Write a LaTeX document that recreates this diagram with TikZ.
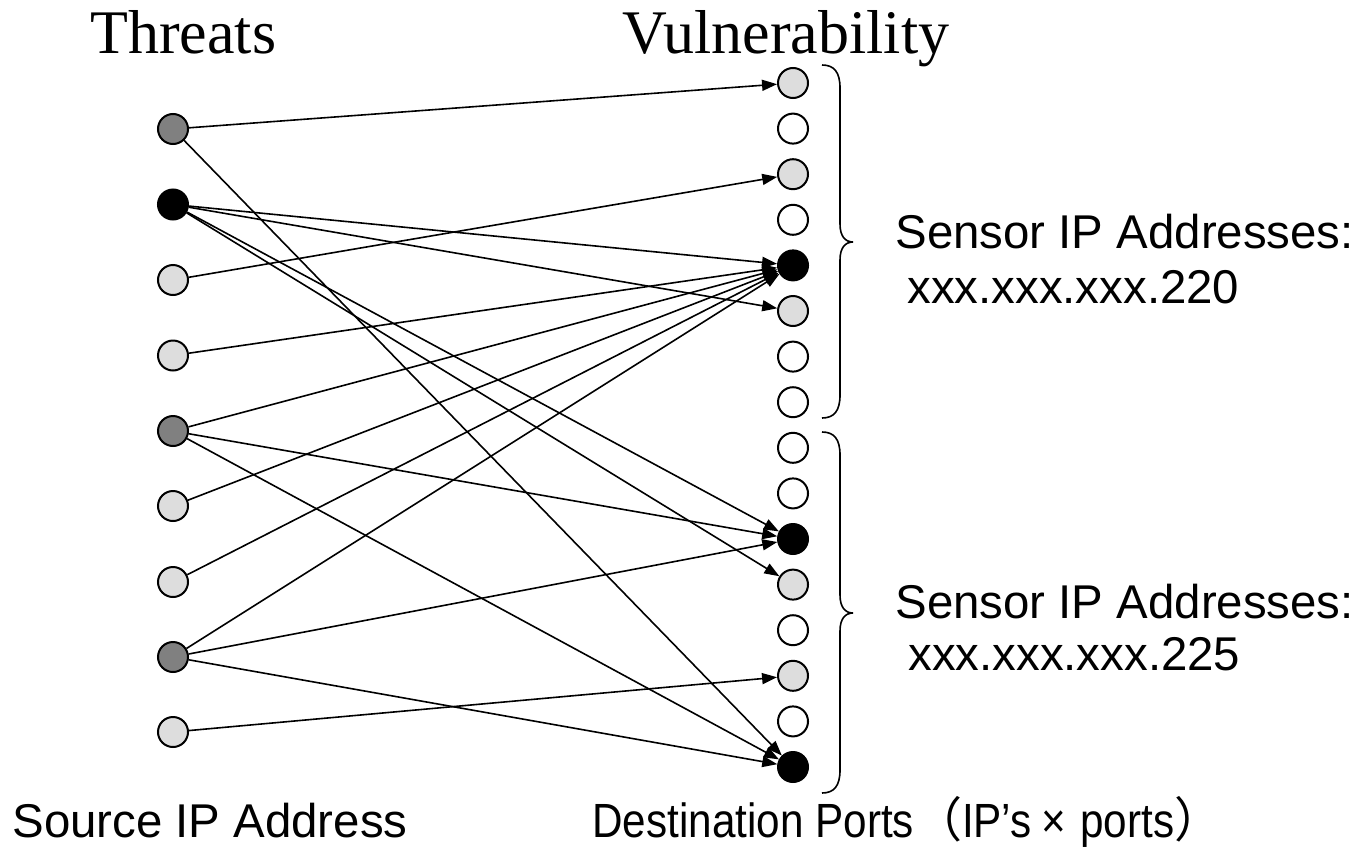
\documentclass[tikz,border=0pt]{standalone}
\usepackage{fontspec}
\setmainfont{Liberation Sans}
\newfontfamily\timesf{Liberation Serif}
\newfontfamily\condsans[FakeStretch=0.88]{Liberation Sans}
\newfontfamily\cjk{Noto Sans CJK JP}
\usetikzlibrary{arrows.meta}
\begin{document}
\begin{tikzpicture}[x=0.5pt,y=-0.5pt,
  dot/.style={circle,draw=black,line width=1pt,minimum size=15pt,inner sep=0pt},
  dg/.style={dot,fill={rgb,255:red,128;green,128;blue,128}},
  lg/.style={dot,fill={rgb,255:red,221;green,221;blue,221}},
  bk/.style={dot,fill=black},
  wh/.style={dot,fill=white},
  conn/.style={line width=0.8pt,-{Triangle[length=7.5pt,width=5.5pt]}},
  brc/.style={line width=0.8pt},
  big/.style={font=\timesf\fontsize{31}{36}\selectfont,anchor=base west,inner sep=0pt},
  lab/.style={font=\fontsize{23.7}{28}\selectfont,anchor=base west,inner sep=0pt}]
\useasboundingbox (0,0) rectangle (1364,846);
% left nodes
\node[dg] (L1) at (173,129) {};
\node[bk] (L2) at (173,204.5) {};
\node[lg] (L3) at (173,280) {};
\node[lg] (L4) at (173,355.5) {};
\node[dg] (L5) at (173,431) {};
\node[lg] (L6) at (173,506) {};
\node[lg] (L7) at (173,582) {};
\node[dg] (L8) at (173,657) {};
\node[lg] (L9) at (173,732) {};
% right nodes
\node[lg] (R1) at (793,83) {};
\node[wh] (R2) at (793,128.6) {};
\node[lg] (R3) at (793,174.2) {};
\node[wh] (R4) at (793,219.8) {};
\node[bk] (R5) at (793,265.4) {};
\node[lg] (R6) at (793,311) {};
\node[wh] (R7) at (793,356.6) {};
\node[wh] (R8) at (793,402.2) {};
\node[wh] (R9) at (793,447.8) {};
\node[wh] (R10) at (793,493.4) {};
\node[bk] (R11) at (793,539) {};
\node[lg] (R12) at (793,584.6) {};
\node[wh] (R13) at (793,630.2) {};
\node[lg] (R14) at (793,675.8) {};
\node[wh] (R15) at (793,721.4) {};
\node[bk] (R16) at (793,767) {};
% connectors
\draw[conn] (L1) -- (R1);
\draw[conn] (L1) -- (R16);
\draw[conn] (L2) -- (R5);
\draw[conn] (L2) -- (R6);
\draw[conn] (L2) -- (R11);
\draw[conn] (L2) -- (R12);
\draw[conn] (L3) -- (R3);
\draw[conn] (L4) -- (R5);
\draw[conn] (L5) -- (R5);
\draw[conn] (L5) -- (R11);
\draw[conn] (L5) -- (R16);
\draw[conn] (L6) -- (R5);
\draw[conn] (L7) -- (R5);
\draw[conn] (L8) -- (R5);
\draw[conn] (L8) -- (R11);
\draw[conn] (L8) -- (R16);
\draw[conn] (L9) -- (R14);
% braces
\draw[brc] (822,65) .. controls (834,65) and (840,72) .. (840,88) -- (840,224)
  .. controls (840,236) and (845,242) .. (853,242)
  .. controls (845,242) and (840,248) .. (840,260) -- (840,395)
  .. controls (840,411) and (834,418) .. (822,418);
\draw[brc] (822,432) .. controls (834,432) and (840,439) .. (840,455) -- (840,595)
  .. controls (840,607) and (845,613) .. (853,613)
  .. controls (845,613) and (840,619) .. (840,631) -- (840,770)
  .. controls (840,786) and (834,793) .. (822,793);
% texts
\node[big] (t1) at (90,53) {Threats};
\node[big] (t2) at (622,53) {Vulnerability};
\node[lab] (s1) at (895,248) {Sensor IP Addresses:};
\node[lab] (s2) at (907,303) {xxx.xxx.xxx.220};
\node[lab] (s3) at (895,618) {Sensor IP Addresses:};
\node[lab] (s4) at (908,670) {xxx.xxx.xxx.225};
\node[lab] (b1) at (12,837) {Source IP Address};
\node[lab,font=\condsans\fontsize{24}{28}\selectfont] (b2) at (592,837) {Destination Ports{\cjk （}IP’s\hspace{0.2em}×\hspace{0.3em}ports{\cjk ）}};
\end{tikzpicture}
\end{document}
